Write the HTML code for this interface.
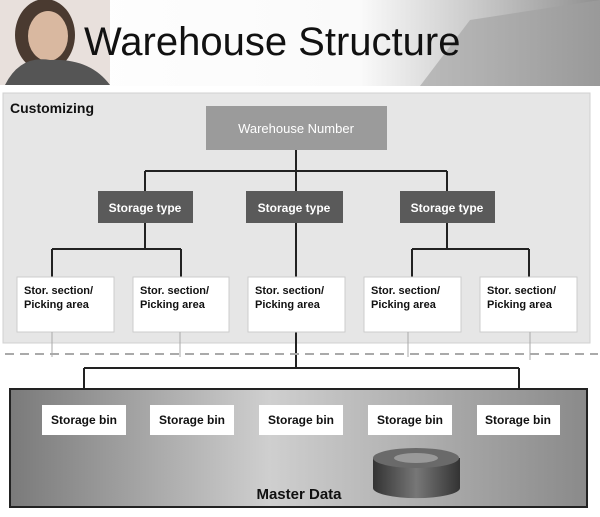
<!DOCTYPE html>
<html><head><style>
body{margin:0;width:600px;height:512px;overflow:hidden;background:#fff;font-family:"Liberation Sans",sans-serif}
</style></head><body>
<svg width="600" height="512" xmlns="http://www.w3.org/2000/svg" font-family="Liberation Sans, sans-serif">
<defs>
<linearGradient id="hd" x1="0" x2="1" y1="0" y2="0">
<stop offset="0" stop-color="#fff"/><stop offset="0.6" stop-color="#fafafa"/><stop offset="0.8" stop-color="#c8c8c8"/><stop offset="1" stop-color="#909090"/></linearGradient>
<linearGradient id="md" x1="0" x2="1" y1="0" y2="0">
<stop offset="0" stop-color="#7a7a7a"/><stop offset="0.45" stop-color="#cfcfcf"/><stop offset="1" stop-color="#8a8a8a"/></linearGradient>
<linearGradient id="cy" x1="0" x2="1"><stop offset="0" stop-color="#333"/><stop offset="0.5" stop-color="#777"/><stop offset="1" stop-color="#333"/></linearGradient>
</defs>
<rect x="0" y="0" width="600" height="86" fill="url(#hd)"/>
<polygon points="420,86 470,20 600,0 600,86" fill="#a0a0a0" opacity="0.6"/>
<!-- photo -->
<rect x="0" y="0" width="110" height="85" fill="#e8e0dc"/>
<ellipse cx="45" cy="35" rx="30" ry="36" fill="#4a3a30"/>
<ellipse cx="48" cy="36" rx="20" ry="25" fill="#d9b8a0"/>
<path d="M5 85 Q20 55 50 60 Q90 58 110 85 Z" fill="#555"/>
<text x="84" y="55" font-size="40" fill="#111">Warehouse Structure</text>
<!-- customizing panel -->
<rect x="3" y="93" width="587" height="250" fill="#e6e6e6" stroke="#d0d0d0"/>
<text x="10" y="113" font-size="14" font-weight="bold" fill="#111">Customizing</text>
<g stroke="#222" stroke-width="2" fill="none">
<path d="M296 150V171M145 171H447M145 171V191M447 171V191M296 171V191"/>
<path d="M145 223V249M52 249H181M52 249V277M181 249V277"/>
<path d="M447 223V249M412 249H529M412 249V277M529 249V277"/>
<path d="M296 223V277M296 332V368M84 368H519M84 368V405M519 368V405"/>
</g>
<rect x="206" y="106" width="181" height="44" fill="#9b9b9b"/>
<text x="296" y="133" font-size="13" fill="#fff" text-anchor="middle">Warehouse Number</text>
<g font-size="12" font-weight="bold" fill="#fff" text-anchor="middle">
<rect x="98" y="191" width="95" height="32" fill="#5a5a5a"/><text x="145" y="212">Storage type</text>
<rect x="246" y="191" width="97" height="32" fill="#5a5a5a"/><text x="294" y="212">Storage type</text>
<rect x="400" y="191" width="95" height="32" fill="#5a5a5a"/><text x="447" y="212">Storage type</text>
</g>
<g font-size="11" font-weight="bold" fill="#111">
<rect x="17" y="277" width="97" height="55" fill="#fff" stroke="#ccc"/><text x="24" y="294">Stor. section/</text><text x="24" y="308">Picking area</text>
<rect x="133" y="277" width="96" height="55" fill="#fff" stroke="#ccc"/><text x="140" y="294">Stor. section/</text><text x="140" y="308">Picking area</text>
<rect x="248" y="277" width="97" height="55" fill="#fff" stroke="#ccc"/><text x="255" y="294">Stor. section/</text><text x="255" y="308">Picking area</text>
<rect x="364" y="277" width="97" height="55" fill="#fff" stroke="#ccc"/><text x="371" y="294">Stor. section/</text><text x="371" y="308">Picking area</text>
<rect x="480" y="277" width="97" height="55" fill="#fff" stroke="#ccc"/><text x="487" y="294">Stor. section/</text><text x="487" y="308">Picking area</text>
</g>
<g stroke="#aaa" stroke-width="1"><path d="M52 332V357M180 332V357M408 332V357M530 332V360"/></g>
<line x1="5" y1="354" x2="598" y2="354" stroke="#aaa" stroke-width="2" stroke-dasharray="9,6"/>
<!-- master data -->
<rect x="10" y="389" width="577" height="118" fill="url(#md)" stroke="#222" stroke-width="2"/>
<g font-size="12" font-weight="bold" fill="#111" text-anchor="middle">
<rect x="42" y="405" width="84" height="30" fill="#fff"/><text x="84" y="424">Storage bin</text>
<rect x="150" y="405" width="84" height="30" fill="#fff"/><text x="192" y="424">Storage bin</text>
<rect x="259" y="405" width="84" height="30" fill="#fff"/><text x="301" y="424">Storage bin</text>
<rect x="368" y="405" width="84" height="30" fill="#fff"/><text x="410" y="424">Storage bin</text>
<rect x="477" y="405" width="83" height="30" fill="#fff"/><text x="518" y="424">Storage bin</text>
</g>
<path d="M373 458V488A43 10 0 0 0 460 488V458Z" fill="url(#cy)"/>
<ellipse cx="416" cy="458" rx="43" ry="10" fill="#6a6a6a"/>
<ellipse cx="416" cy="458" rx="22" ry="5" fill="#999"/>
<text x="299" y="499" font-size="15" font-weight="bold" fill="#111" text-anchor="middle">Master Data</text>
</svg>
</body></html>
